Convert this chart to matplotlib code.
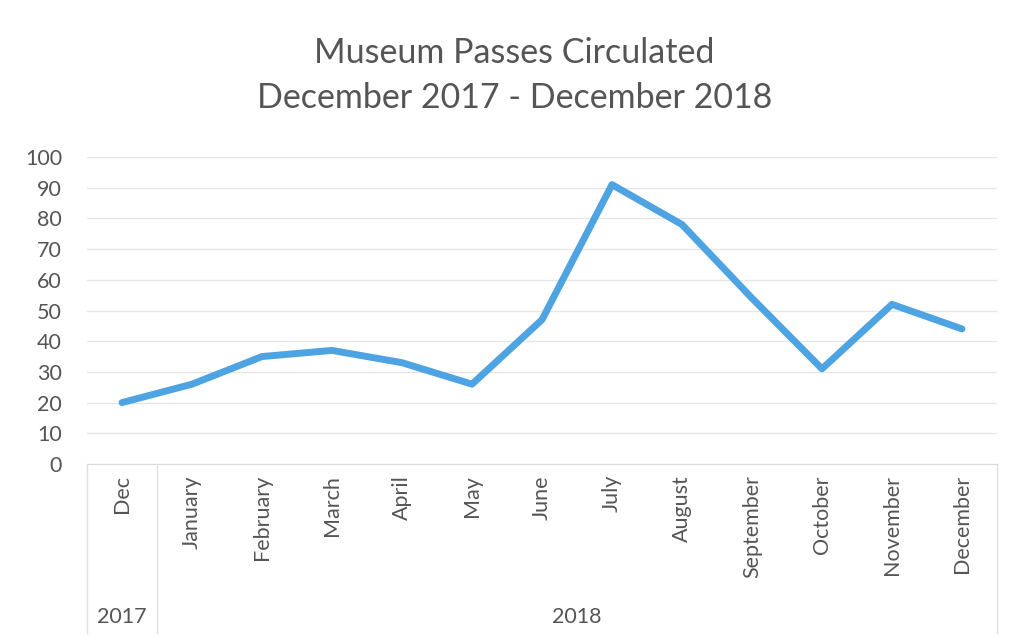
import matplotlib
matplotlib.use('AGG')
import matplotlib.pyplot as plt
import matplotlib.transforms as mtransforms

# Passes circulated per month
MONTHS = ['Dec', 'January', 'February', 'March', 'April', 'May', 'June',
          'July', 'August', 'September', 'October', 'November', 'December']
PASSES = [20, 26, 35, 37, 33, 26, 47, 91, 78, 54, 31, 52, 44]
YEARS = ['2017', '2018']
YEAR_SPANS = [(0, 0), (1, 12)]   # first and last month index of each year

TEXT_COLOR = '#555555'
LINE_COLOR = '#4ea3e3'
GRID_COLOR = '#e6e6e6'

plt.rcParams['font.family'] = ['Lato', 'DejaVu Sans']

fig = plt.figure(figsize=(10.19, 6.44), dpi=100)
ax = fig.add_axes([0.0854, 0.2795, 0.8930, 0.4767])

x = list(range(len(MONTHS)))
ax.plot(x, PASSES, color=LINE_COLOR, linewidth=5, solid_capstyle='round',
        solid_joinstyle='round', zorder=3)

ax.set_xlim(-0.5, len(MONTHS) - 0.5)
ax.set_ylim(0, 100)
ax.set_yticks(range(0, 101, 10))
ax.yaxis.grid(True, color=GRID_COLOR, linewidth=1)
ax.set_axisbelow(True)

for side in ['top', 'right', 'left']:
    ax.spines[side].set_visible(False)
ax.spines['bottom'].set_color('#d9d9d9')

ax.tick_params(axis='y', length=0, pad=18, labelsize=15.5, labelcolor=TEXT_COLOR)
ax.set_xticks(x)
ax.set_xticklabels(MONTHS, rotation=90, va='top')
ax.tick_params(axis='x', length=0, pad=8, labelsize=15.5, labelcolor=TEXT_COLOR)

# second level of the category axis: year boxes
trans = mtransforms.blended_transform_factory(ax.transData, ax.transAxes)
bounds = sorted({s - 0.5 for s, _ in YEAR_SPANS} | {e + 0.5 for _, e in YEAR_SPANS})
for b in bounds:
    ax.plot([b, b], [0, -0.55], transform=trans, color='#e0e0e0',
            linewidth=1, clip_on=False)
for year, (s, e) in zip(YEARS, YEAR_SPANS):
    ax.text((s + e) / 2, -0.50, year, transform=trans, ha='center', va='center',
            fontsize=15.5, color=TEXT_COLOR)

fig.text(0.505, 0.918, 'Museum Passes Circulated', ha='center', va='center',
         fontsize=24.5, color=TEXT_COLOR)
fig.text(0.505, 0.848, 'December 2017 - December 2018', ha='center', va='center',
         fontsize=24.5, color=TEXT_COLOR)

fig.savefig('out.png', dpi=100)
